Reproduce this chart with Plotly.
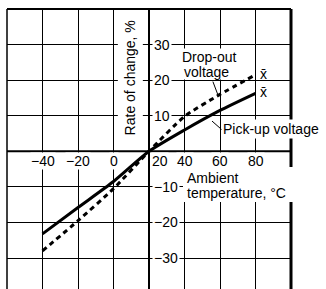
import plotly.graph_objects as go

# ---- data ----
temps = [-40, -20, 0, 20, 40, 60, 80]
pickup = [-23.2, -15.8, -8.5, 0, 6.0, 11.5, 16.3]
dropout = [-28.0, -19.5, -10.5, 0, 9.8, 16.0, 21.5]

x_ticks = [-40, -20, 0, 20, 40, 60, 80]
x_tick_text = ["\u221240", "\u221220", "0", "20", "40", "60", "80"]
y_ticks = [30, 20, 10, -10, -20, -30]
y_tick_text = ["30", "20", "10", "\u221210", "\u221220", "\u221230"]

FONT = dict(family="Liberation Sans, Arial, sans-serif", size=14, color="black")

fig = go.Figure()
fig.add_trace(go.Scatter(x=temps, y=dropout, mode="lines",
                         line=dict(color="black", width=3, dash="5px,4px", shape="spline", smoothing=0.6),
                         hoverinfo="skip", showlegend=False))
fig.add_trace(go.Scatter(x=temps, y=pickup, mode="lines",
                         line=dict(color="black", width=3, shape="spline", smoothing=0.6),
                         hoverinfo="skip", showlegend=False))

grid_x = [v for v in x_ticks if v != 20]
fig.update_xaxes(range=[-60, 100], tickvals=grid_x, showticklabels=False, ticks="",
                 showgrid=True, gridcolor="black", gridwidth=1, zeroline=False,
                 showline=False, fixedrange=True)
fig.update_yaxes(range=[-38.7, 40], tickvals=y_ticks, showticklabels=False, ticks="",
                 showgrid=True, gridcolor="black", gridwidth=1, zeroline=False,
                 showline=False, fixedrange=True)

# pixel helpers for paper-referenced decoration
def px_to_paper_x(px):
    return (px - 7) / 284.0

def px_to_paper_y(py):
    return (289 - py) / 280.0

shapes = []
# frame (left, top, right)
shapes.append(dict(type="line", xref="paper", yref="paper", x0=0, x1=0, y0=0, y1=1,
                   line=dict(color="black", width=1.5), layer="above"))
shapes.append(dict(type="line", xref="paper", yref="paper", x0=0, x1=1, y0=1, y1=1,
                   line=dict(color="black", width=2), layer="above"))
shapes.append(dict(type="line", xref="paper", yref="paper", x0=1, x1=1, y0=0, y1=1,
                   line=dict(color="black", width=3), layer="above"))
# axes crossing at (20, 0)
shapes.append(dict(type="line", xref="x", yref="paper", x0=20, x1=20, y0=0, y1=1,
                   line=dict(color="black", width=2), layer="above"))
shapes.append(dict(type="line", xref="paper", yref="y", x0=0, x1=1, y0=0, y1=0,
                   line=dict(color="black", width=2), layer="above"))
# white backing behind the x-axis title block
shapes.append(dict(type="rect", xref="paper", yref="paper",
                   x0=px_to_paper_x(183), x1=px_to_paper_x(296),
                   y0=px_to_paper_y(202), y1=px_to_paper_y(167),
                   fillcolor="white", line=dict(width=0), layer="above"))
# white backing behind the drop-out label block
shapes.append(dict(type="rect", xref="paper", yref="paper",
                   x0=px_to_paper_x(179), x1=px_to_paper_x(240),
                   y0=px_to_paper_y(79.5), y1=px_to_paper_y(48.5),
                   fillcolor="white", line=dict(width=0), layer="above"))
# leader lines
shapes.append(dict(type="line", xref="x", yref="y", x0=56.0, y0=19.6, x1=58.8, y1=15.9,
                   line=dict(color="black", width=1), layer="above"))
shapes.append(dict(type="line", xref="x", yref="y", x0=55.5, y0=8.5, x1=61.2, y1=6.0,
                   line=dict(color="black", width=1), layer="above"))

ann = []
for v, t in zip(y_ticks, y_tick_text):
    ann.append(dict(x=20, y=v, xref="x", yref="y", text=t, showarrow=False,
                    xanchor="left", yanchor="middle", xshift=3, bgcolor="white",
                    borderpad=1, font=FONT))
for v, t in zip(x_ticks, x_tick_text):
    if v == 20:
        ann.append(dict(x=v, y=0, xref="x", yref="y", text=t, showarrow=False,
                        xanchor="left", yanchor="top", xshift=2, yshift=-1,
                        bgcolor="white", borderpad=0, font=FONT))
    else:
        ann.append(dict(x=v, y=0, xref="x", yref="y", text=t, showarrow=False,
                        xanchor="center", yanchor="top", yshift=-1,
                        bgcolor="white", borderpad=0, font=FONT))
# axis titles
ann.append(dict(x=9.5, y=20.6, xref="x", yref="y", text="Rate of change, %",
                textangle=-90, showarrow=False, xanchor="center", yanchor="middle",
                bgcolor="white", borderpad=4, font=FONT))
ann.append(dict(x=40.2, y=-7.6, xref="x", yref="y", text="Ambient",
                showarrow=False, xanchor="left", yanchor="middle", font=FONT))
ann.append(dict(x=40.2, y=-11.6, xref="x", yref="y", text="temperature, \u00b0C",
                showarrow=False, xanchor="left", yanchor="middle", font=FONT))
# curve labels
ann.append(dict(x=37.6, y=26.6, xref="x", yref="y", text="Drop-out",
                showarrow=False, xanchor="left", yanchor="middle", font=FONT))
ann.append(dict(x=38.8, y=22.2, xref="x", yref="y", text="voltage",
                showarrow=False, xanchor="left", yanchor="middle", font=FONT))
ann.append(dict(x=60.8, y=6.3, xref="x", yref="y", text="Pick-up voltage",
                showarrow=False, xanchor="left", yanchor="middle",
                bgcolor="white", borderpad=1, font=FONT))
ann.append(dict(x=81.5, y=21.6, xref="x", yref="y", text="x\u0304",
                showarrow=False, xanchor="left", yanchor="middle", font=FONT))
ann.append(dict(x=81.5, y=16.6, xref="x", yref="y", text="x\u0304",
                showarrow=False, xanchor="left", yanchor="middle", font=FONT))

fig.update_layout(width=326, height=289, margin=dict(l=7, r=35, t=9, b=0, autoexpand=False),
                  paper_bgcolor="white", plot_bgcolor="white", font=FONT,
                  shapes=shapes, annotations=ann, showlegend=False)

fig.write_html("out.html", config={"displayModeBar": False},
               post_script="document.body.style.margin='0';document.body.style.overflow='hidden';")
